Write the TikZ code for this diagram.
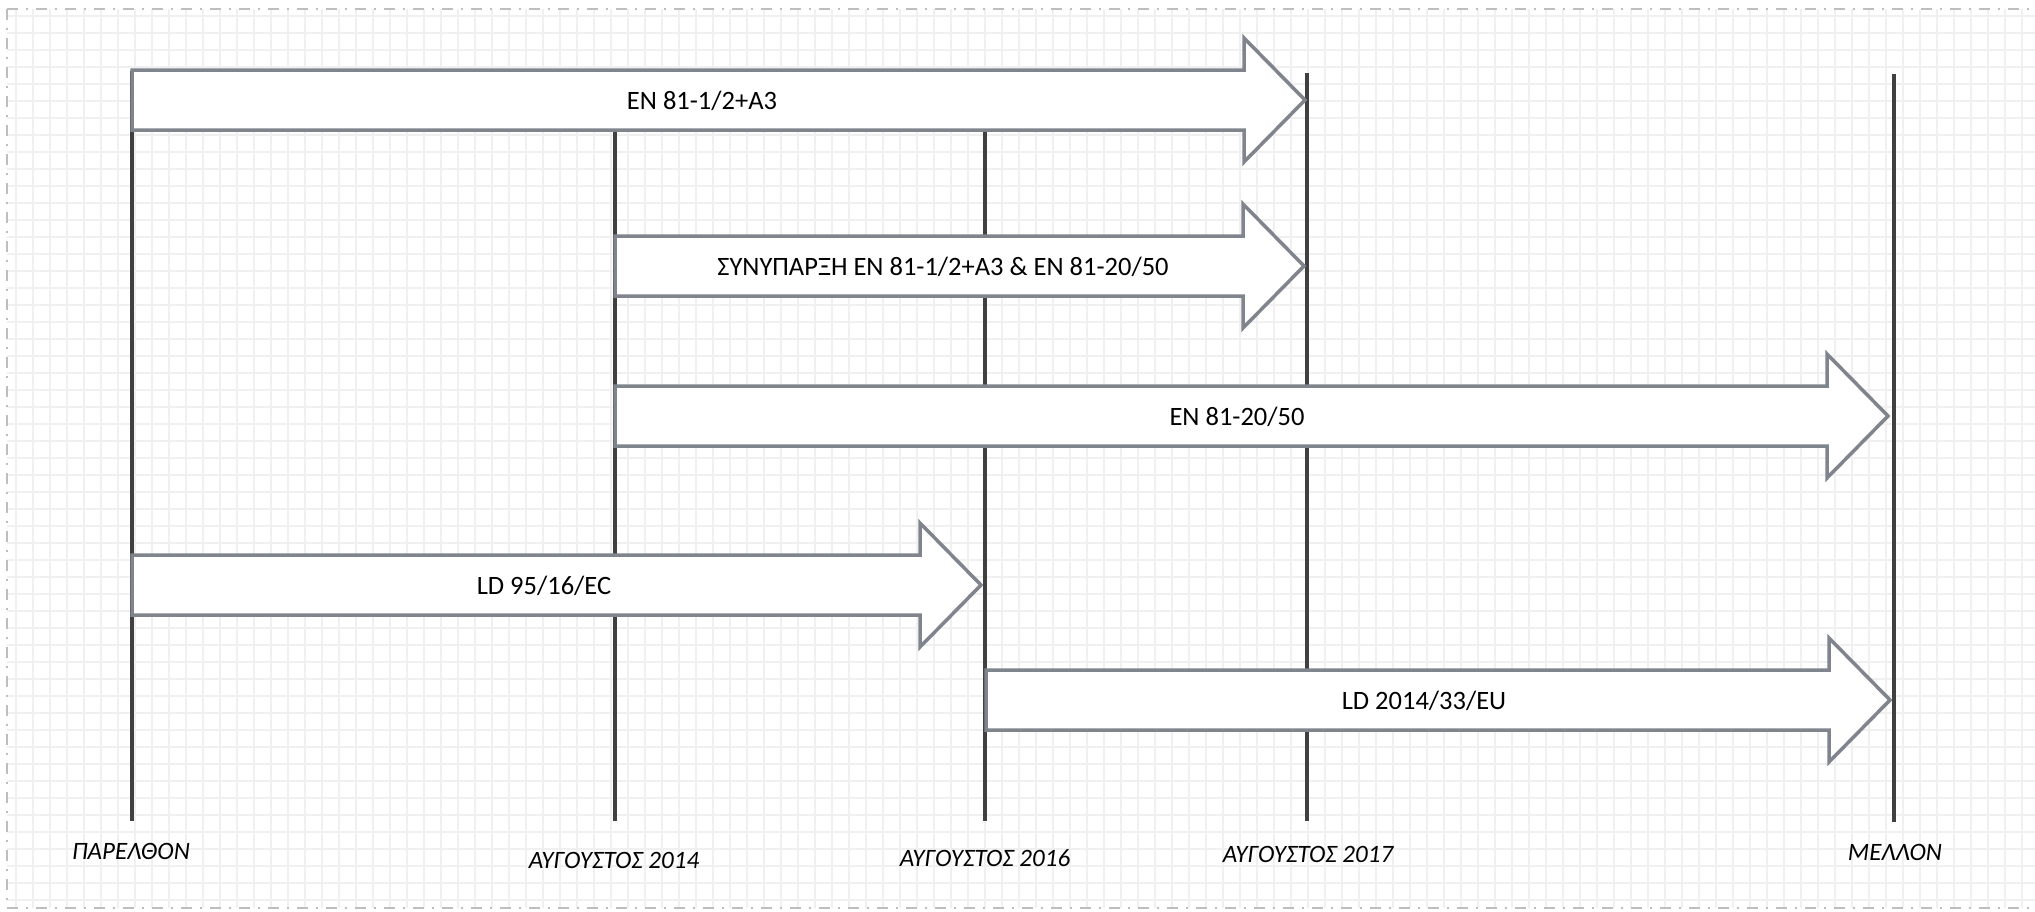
\documentclass[tikz,border=0pt]{standalone}
\usepackage{fontspec}
\setmainfont{Carlito}
\definecolor{arrowgray}{RGB}{127,132,141}
\definecolor{linedark}{RGB}{64,64,64}
\definecolor{gridgray}{RGB}{240,240,240}
\definecolor{bordergray}{RGB}{190,190,190}
\newcommand{\tlarrow}[7]{% name, left, tip, cy, textx, text
  \draw[tarrow] (#2,{#4-30}) -- ({#3-61},{#4-30}) -- ({#3-61},{#4-62}) -- (#3,#4)
     -- ({#3-61},{#4+62}) -- ({#3-61},{#4+30}) -- (#2,{#4+30}) -- cycle;
  \node[alabel] (#1) at (#5,{#4+9}) {#6};
}
\begin{document}
\begin{tikzpicture}[x=1pt,y=-1pt,
  gridline/.style={draw=gridgray,line width=1.7pt},
  border/.style={draw=bordergray,line width=2pt,dash pattern=on 11pt off 7.5pt on 2pt off 8.5pt},
  timeline/.style={draw=linedark,line width=3.3pt},
  tarrow/.style={draw=arrowgray,fill=white,line width=3.5pt,line join=miter},
  alabel/.style={font=\fontsize{26.5}{31}\selectfont,inner sep=0pt,anchor=base},
  tlabel/.style={font=\fontsize{25}{30}\selectfont\itshape,inner sep=0pt,anchor=base}]
\useasboundingbox (0,0) rectangle (2035,911);
\fill[white] (0,0) rectangle (2035,911);
% grid
\foreach \i in {0,...,118} \draw[gridline] ({16+17*\i},9) -- ({16+17*\i},908);
\foreach \j in {0,...,52} \draw[gridline] (7,{16+17*\j}) -- (2035,{16+17*\j});
% border
\draw[border] (7,9) -- (2035,9);
\draw[border] (7,9) -- (7,908);
\draw[border] (7,908) -- (2035,908);
% time lines
\coordinate (t1) at (132,71);   \coordinate (b1) at (132,821);
\coordinate (t2) at (615,100);  \coordinate (b2) at (615,821);
\coordinate (t3) at (985,100);  \coordinate (b3) at (985,821);
\coordinate (t4) at (1307,73);  \coordinate (b4) at (1307,821);
\coordinate (t5) at (1894,74);  \coordinate (b5) at (1894,822);
\foreach \k in {1,...,5} \draw[timeline] (t\k) -- (b\k);
% arrows
\tlarrow{a1}{132}{1305}{100}{702}{EN 81-1/2+A3}{}
\tlarrow{a2}{615}{1304}{266}{943}{ΣΥΝΥΠΑΡΞΗ EN 81-1/2+A3 \& EN 81-20/50}{}
\tlarrow{a3}{615}{1888}{416}{1237}{EN 81-20/50}{}
\tlarrow{a4}{132}{981}{585}{544}{LD 95/16/EC}{}
\tlarrow{a5}{986}{1890}{700}{1424}{LD 2014/33/EU}{}
% bottom labels
\node[tlabel] (l1) at (131,859) {ΠΑΡΕΛΘΟΝ};
\node[tlabel] (l2) at (614,868) {ΑΥΓΟΥΣΤΟΣ 2014};
\node[tlabel] (l3) at (985,866) {ΑΥΓΟΥΣΤΟΣ 2016};
\node[tlabel] (l4) at (1308,862) {ΑΥΓΟΥΣΤΟΣ 2017};
\node[tlabel] (l5) at (1895,860) {ΜΕΛΛΟΝ};
\end{tikzpicture}
\end{document}
